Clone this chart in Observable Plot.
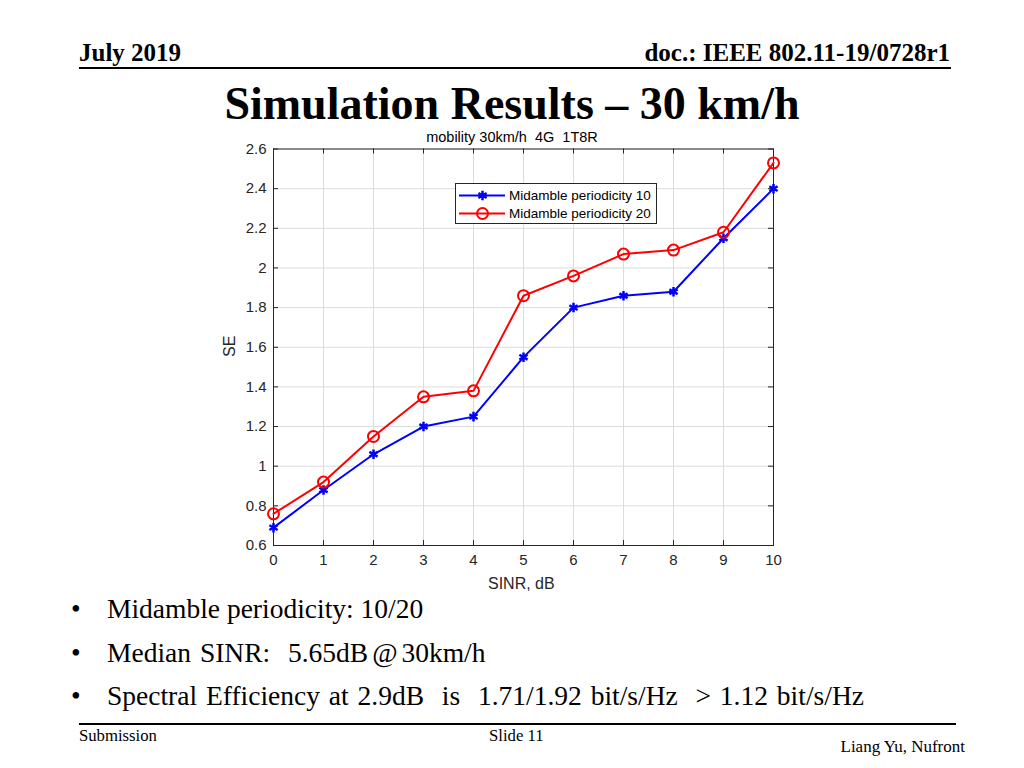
<!DOCTYPE html>
<html>
<head>
<meta charset="utf-8">
<script src="https://cdn.jsdelivr.net/npm/d3@7"></script>
<script src="https://cdn.jsdelivr.net/npm/@observablehq/plot@0.6"></script>
<style>
  html, body { margin: 0; padding: 0; background: #fff; }
  body { width: 1024px; height: 768px; position: relative; overflow: hidden; }
  .t { position: absolute; white-space: nowrap; line-height: 1; font-family: "Liberation Serif", "Times New Roman", serif; color: #000; }
  .s { position: absolute; white-space: nowrap; line-height: 1; font-family: "Liberation Sans", Arial, sans-serif; color: #262626; }
  .rule { position: absolute; height: 0; border-top: 2px solid #000; }
  #chart { position: absolute; left: 210px; top: 140px; }
  #legend { position: absolute; left: 455px; top: 183px; width: 202px; height: 41px; border: 1px solid #262626; background: #fff; box-sizing: border-box; }
  #legend .row { position: absolute; left: 3px; height: 18px; display: flex; align-items: center; font-family: "Liberation Sans", Arial, sans-serif; font-size: 13.5px; color: #000; }
</style>
</head>
<body>
<div class="t" style="left:79px; top:40px; font-size:25px; font-weight:bold;">July 2019</div>
<div class="t" style="right:74px; top:40px; font-size:25px; font-weight:bold;">doc.: IEEE 802.11-19/0728r1</div>
<div class="rule" style="left:79px; top:67px; width:872px;"></div>
<div class="t" style="left:0; width:1024px; text-align:center; top:81px; font-size:46px; font-weight:bold;">Simulation Results – 30 km/h</div>
<div class="s" style="left:0; width:1024px; text-align:center; top:130px; font-size:14.5px; color:#000;">mobility 30km/h&nbsp; 4G&nbsp; 1T8R</div>

<div id="chart"></div>
<div class="s" style="left:488px; top:576px; font-size:16px;">SINR, dB</div>
<div class="s" style="left:221px; top:340px; font-size:16px; transform: rotate(-90deg); transform-origin: 9px 8px;">SE</div>

<div id="legend"></div>

<div class="t" style="left:71px; top:595px; font-size:27.5px;">•</div>
<div class="t" style="left:107px; top:595px; font-size:27.5px;">Midamble periodicity: 10/20</div>
<div class="t" style="left:71px; top:639px; font-size:27.5px;">•</div>
<div class="t" style="left:107px; top:639px; font-size:27.5px; word-spacing:2px;">Median SINR:&nbsp; 5.65dB<span style="margin:0 4px;">@</span>30km/h</div>
<div class="t" style="left:71px; top:682px; font-size:27.5px;">•</div>
<div class="t" style="left:107px; top:682px; font-size:27.5px; word-spacing:2px;">Spectral Efficiency at 2.9dB&nbsp; is&nbsp; 1.71/1.92 bit/s/Hz&nbsp; &gt; 1.12 bit/s/Hz</div>

<div class="rule" style="left:79px; top:723px; width:877px;"></div>
<div class="t" style="left:79px; top:728px; font-size:16.7px;">Submission</div>
<div class="t" style="left:489px; top:728px; font-size:16.7px;">Slide 11</div>
<div class="t" style="right:59px; top:738px; font-size:17px;">Liang Yu, Nufront</div>

<script>
const sinr = [0, 1, 2, 3, 4, 5, 6, 7, 8, 9, 10];
const seriesNames = ["Midamble periodicity 10", "Midamble periodicity 20"];
const se10 = [0.69, 0.88, 1.06, 1.20, 1.25, 1.55, 1.80, 1.86, 1.88, 2.15, 2.40];
const se20 = [0.76, 0.92, 1.15, 1.35, 1.38, 1.86, 1.96, 2.07, 2.09, 2.18, 2.53];
const seriesColors = ["#0000ff", "#ff0000"];
const xTicks = [0, 1, 2, 3, 4, 5, 6, 7, 8, 9, 10];
const yTicks = [0.6, 0.8, 1.0, 1.2, 1.4, 1.6, 1.8, 2.0, 2.2, 2.4, 2.6];

const d10 = sinr.map((x, i) => ({x, y: se10[i]}));
const d20 = sinr.map((x, i) => ({x, y: se20[i]}));

const W = 600, H = 460, mL = 63, mR = 37, mT = 8.5, mB = 55;
const ph = H - mT - mB, pw = W - mL - mR;
const axisColor = "#262626";
const fmt = d => String(+d.toFixed(1));

const chart = Plot.plot({
  width: W, height: H,
  marginLeft: mL, marginRight: mR, marginTop: mT, marginBottom: mB,
  style: {fontFamily: "Liberation Sans, Arial, sans-serif", fontSize: "15px", color: axisColor, background: "transparent"},
  x: {domain: [0, 10], ticks: xTicks},
  y: {domain: [0.6, 2.6], ticks: yTicks},
  marks: [
    Plot.gridX(xTicks, {stroke: "#dcdcdc", strokeOpacity: 1}),
    Plot.gridY(yTicks, {stroke: "#dcdcdc", strokeOpacity: 1}),
    Plot.tickX(xTicks, {x: d => d, stroke: axisColor, insetTop: ph - 5}),
    Plot.tickX(xTicks, {x: d => d, stroke: axisColor, insetBottom: ph - 5}),
    Plot.tickY(yTicks, {y: d => d, stroke: axisColor, insetRight: pw - 5}),
    Plot.tickY(yTicks, {y: d => d, stroke: axisColor, insetLeft: pw - 5}),
    Plot.frame({stroke: axisColor, strokeWidth: 1}),
    Plot.axisX(xTicks, {tickSize: 0, tickPadding: 9, label: null, fontSize: 15, fill: axisColor}),
    Plot.axisY(yTicks, {tickSize: 0, tickPadding: 7, label: null, tickFormat: fmt, fontSize: 15, fill: axisColor}),
    Plot.line(d10, {x: "x", y: "y", stroke: seriesColors[0], strokeWidth: 2}),
    Plot.line(d20, {x: "x", y: "y", stroke: seriesColors[1], strokeWidth: 2}),
    Plot.dot(d10, {x: "x", y: "y", symbol: "asterisk", r: 4.5, stroke: seriesColors[0], strokeWidth: 2.5}),
    Plot.dot(d20, {x: "x", y: "y", symbol: "circle", r: 5.5, stroke: seriesColors[1], fill: "none", strokeWidth: 2})
  ]
});
document.getElementById("chart").appendChild(chart);

// legend
const legend = document.getElementById("legend");
seriesNames.forEach((name, i) => {
  const row = document.createElement("div");
  row.className = "row";
  row.style.top = (2 + i * 18) + "px";
  const sym = i === 0
    ? Plot.dot([0], {x: () => 0, y: () => 0, symbol: "asterisk", r: 4.5, stroke: seriesColors[0], strokeWidth: 2.5})
    : Plot.dot([0], {x: () => 0, y: () => 0, symbol: "circle", r: 5.5, stroke: seriesColors[1], fill: "none", strokeWidth: 2});
  const svg = Plot.plot({
    width: 46, height: 18, margin: 0, axis: null,
    x: {domain: [-1, 1]}, y: {domain: [-1, 1]},
    marks: [
      Plot.ruleY([0], {x1: -1, x2: 1, stroke: seriesColors[i], strokeWidth: 2}),
      sym
    ]
  });
  svg.style.display = "block";
  row.appendChild(svg);
  const label = document.createElement("span");
  label.textContent = name;
  label.style.marginLeft = "4px";
  row.appendChild(label);
  legend.appendChild(row);
});
</script>
</body>
</html>
